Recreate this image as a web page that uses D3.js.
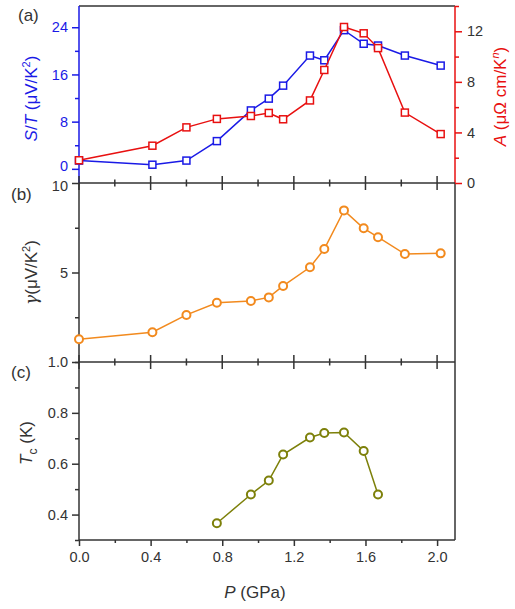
<!DOCTYPE html>
<html>
<head>
<meta charset="utf-8">
<script src="https://cdn.jsdelivr.net/npm/d3@7"></script>
<style>
  html, body { margin: 0; padding: 0; background: #fff; }
  svg { display: block; font-family: Arial, "Liberation Sans", sans-serif; }
</style>
</head>
<body>
<div id="container"></div>
<script>
// pressure points (GPa)
const pressure = [0, 0.41, 0.6, 0.77, 0.96, 1.06, 1.14, 1.29, 1.37, 1.48, 1.59, 1.67, 1.82, 2.02];
// S/T (uV/K^2), left axis of (a)
const seebeck = [1.4, 0.7, 1.4, 4.7, 9.9, 11.9, 14.1, 19.2, 18.4, 23.5, 21.2, 20.9, 19.2, 17.5];
// A coefficient, right axis of (a)
const coefA = [1.8, 2.95, 4.4, 5.07, 5.3, 5.54, 5.04, 6.53, 8.94, 12.34, 11.84, 10.67, 5.57, 3.87];
// gamma (uV/K^2)
const gamma = [1.27, 1.66, 2.63, 3.31, 3.41, 3.61, 4.25, 5.29, 6.31, 8.47, 7.47, 6.97, 6.03, 6.07];
// Tc points
const tcPressure = [0.77, 0.96, 1.06, 1.14, 1.29, 1.37, 1.48, 1.59, 1.67];
const tc = [0.366, 0.479, 0.534, 0.636, 0.703, 0.721, 0.723, 0.65, 0.479];

const xTicks = [0, 0.4, 0.8, 1.2, 1.6, 2.0];
const xMinor = [0.2, 0.6, 1.0, 1.4, 1.8];

const W = 515, H = 609,
    LEFT = 79, RIGHT = 455,
    BLUE = '#1a1ae6', RED = '#e81010', ORANGE = '#f28a1e', OLIVE = '#7d800a', INK = '#333';

const svg = d3.select('#container').append('svg')
    .attr('width', W)
    .attr('height', H);

const x = d3.scaleLinear().domain([0, 2.1]).range([LEFT, RIGHT]);

const panels = {
    a: { top: 6, bottom: 183 },
    b: { top: 183, bottom: 362 },
    c: { top: 362, bottom: 540 }
};

const yS = d3.scaleLinear().domain([-2.4, 27.6]).range([panels.a.bottom, panels.a.top]);
const yA = d3.scaleLinear().domain([0, 14]).range([panels.a.bottom, panels.a.top]);
const yG = d3.scaleLinear().domain([0, 10]).range([panels.b.bottom, panels.b.top]);
const yT = d3.scaleLinear().domain([0.3, 1.0]).range([panels.c.bottom, panels.c.top]);

function styleAxis(g, color, labelColor) {
    g.select('.domain').remove();
    g.selectAll('.tick line').attr('stroke', color).attr('stroke-width', 1.5);
    g.selectAll('.tick text')
        .attr('fill', labelColor)
        .attr('font-size', 14.5);
}

// left axis with major + minor ticks
function leftAxis(scale, major, minor, fmt, color, labelColor) {
    svg.append('g')
        .attr('transform', `translate(${LEFT},0)`)
        .call(d3.axisLeft(scale).tickValues(minor).tickSize(4).tickFormat(''))
        .call(g => styleAxis(g, color, labelColor));
    return svg.append('g')
        .attr('transform', `translate(${LEFT},0)`)
        .call(d3.axisLeft(scale).tickValues(major).tickSize(7).tickPadding(4).tickFormat(fmt))
        .call(g => styleAxis(g, color, labelColor));
}

// x ticks crossing a panel boundary
function crossTicks(yPos) {
    const g = svg.append('g');
    g.selectAll('line.maj').data(xTicks).join('line')
        .attr('x1', d => x(d)).attr('x2', d => x(d))
        .attr('y1', yPos - 7).attr('y2', yPos + 7)
        .attr('stroke', INK).attr('stroke-width', 1.5);
    g.selectAll('line.min').data(xMinor).join('line')
        .attr('x1', d => x(d)).attr('x2', d => x(d))
        .attr('y1', yPos - 3.5).attr('y2', yPos + 3.5)
        .attr('stroke', INK).attr('stroke-width', 1.5);
}

// ---- frames
const frame = svg.append('g').attr('fill', 'none').attr('stroke-width', 1.5);
frame.append('line').attr('x1', LEFT).attr('x2', RIGHT).attr('y1', panels.a.top).attr('y2', panels.a.top).attr('stroke', INK);
frame.append('line').attr('x1', LEFT).attr('x2', LEFT).attr('y1', panels.a.top).attr('y2', panels.a.bottom).attr('stroke', BLUE);
frame.append('line').attr('x1', RIGHT).attr('x2', RIGHT).attr('y1', panels.a.top).attr('y2', panels.a.bottom).attr('stroke', RED);
frame.append('line').attr('x1', LEFT).attr('x2', LEFT).attr('y1', panels.b.top).attr('y2', panels.c.bottom).attr('stroke', INK);
frame.append('line').attr('x1', RIGHT).attr('x2', RIGHT).attr('y1', panels.b.top).attr('y2', panels.c.bottom).attr('stroke', INK);
[panels.b.top, panels.c.top, panels.c.bottom].forEach(yy => {
    frame.append('line').attr('x1', LEFT).attr('x2', RIGHT).attr('y1', yy).attr('y2', yy).attr('stroke', INK);
});

crossTicks(panels.b.top);
crossTicks(panels.c.top);

// bottom x axis
svg.append('g')
    .attr('transform', `translate(0,${panels.c.bottom})`)
    .call(d3.axisBottom(x).tickValues(xMinor).tickSize(3).tickFormat(''))
    .call(g => styleAxis(g, INK, INK));
svg.append('g')
    .attr('transform', `translate(0,${panels.c.bottom})`)
    .call(d3.axisBottom(x).tickValues(xTicks).tickSize(6).tickPadding(6).tickFormat(d3.format('.1f')))
    .call(g => styleAxis(g, INK, INK));

// ---- left axes
const sAxis = leftAxis(yS, [0, 8, 16, 24], [4, 12, 20], d3.format('d'), BLUE, BLUE);
const gAxis = leftAxis(yG, [5, 10], [0, 2.5, 7.5], d3.format('d'), INK, INK);
leftAxis(yT, [0.4, 0.6, 0.8, 1.0], [0.3, 0.5, 0.7, 0.9], d3.format('.1f'), INK, INK);
// "0" of (a) and "10" of (b) sit right on top of each other; pull them apart a touch
sAxis.selectAll('.tick text').filter(d => d === 0).attr('dy', '0.1em');
gAxis.selectAll('.tick text').filter(d => d === 10).attr('dy', '0.5em');

// ---- right axis (a)
svg.append('g')
    .attr('transform', `translate(${RIGHT},0)`)
    .call(d3.axisRight(yA).tickValues([2, 6, 10, 14]).tickSize(4).tickFormat(''))
    .call(g => styleAxis(g, RED, INK));
svg.append('g')
    .attr('transform', `translate(${RIGHT},0)`)
    .call(d3.axisRight(yA).tickValues([0, 4, 8, 12]).tickSize(7).tickPadding(5).tickFormat(d3.format('d')))
    .call(g => styleAxis(g, RED, INK));

// ---- series
function series(xs, ys, yScale, color, shape) {
    const pts = xs.map((p, i) => [p, ys[i]]);
    const g = svg.append('g');
    g.append('path')
        .datum(pts)
        .attr('fill', 'none')
        .attr('stroke', color)
        .attr('stroke-width', 1.5)
        .attr('d', d3.line().x(d => x(d[0])).y(d => yScale(d[1])));
    if (shape === 'square') {
        g.selectAll('rect').data(pts).join('rect')
            .attr('x', d => x(d[0]) - 3.5).attr('y', d => yScale(d[1]) - 3.5)
            .attr('width', 7).attr('height', 7)
            .attr('fill', '#fff').attr('stroke', color).attr('stroke-width', 1.5);
    } else {
        g.selectAll('circle').data(pts).join('circle')
            .attr('cx', d => x(d[0])).attr('cy', d => yScale(d[1]))
            .attr('r', 4)
            .attr('fill', '#fff').attr('stroke', color).attr('stroke-width', 2);
    }
}

series(pressure, seebeck, yS, BLUE, 'square');
series(pressure, coefA, yA, RED, 'square');
series(pressure, gamma, yG, ORANGE, 'circle');
series(tcPressure, tc, yT, OLIVE, 'circle');

// ---- titles & labels
const txt = svg.append('g').attr('fill', INK);
txt.append('text').attr('x', 18).attr('y', 21).attr('font-size', 17).text('(a)');
txt.append('text').attr('x', 11).attr('y', 200).attr('font-size', 17).text('(b)');
txt.append('text').attr('x', 11).attr('y', 378).attr('font-size', 17).text('(c)');

const sTitle = svg.append('text')
    .attr('transform', `translate(37,${(panels.a.top + panels.a.bottom) / 2 + 4}) rotate(-90)`)
    .attr('text-anchor', 'middle')
    .attr('font-size', 17)
    .attr('fill', BLUE);
sTitle.append('tspan').attr('font-style', 'italic').text('S');
sTitle.append('tspan').text('/');
sTitle.append('tspan').attr('font-style', 'italic').text('T');
sTitle.append('tspan').text(' (\u03bcV/K');
sTitle.append('tspan').attr('font-size', 11).attr('dy', -7).text('2');
sTitle.append('tspan').attr('dy', 7).text(')');

const aTitle = svg.append('text')
    .attr('transform', `translate(506,${(panels.a.top + panels.a.bottom) / 2 + 2}) rotate(-90)`)
    .attr('text-anchor', 'middle')
    .attr('font-size', 17)
    .attr('fill', RED);
aTitle.append('tspan').attr('font-style', 'italic').text('A');
aTitle.append('tspan').text(' (\u03bc\u03a9 cm/K');
aTitle.append('tspan').attr('font-size', 11).attr('dy', -7).attr('font-style', 'italic').text('n');
aTitle.append('tspan').attr('dy', 7).text(')');

const gTitle = svg.append('text')
    .attr('transform', `translate(37,${(panels.b.top + panels.b.bottom) / 2}) rotate(-90)`)
    .attr('text-anchor', 'middle')
    .attr('font-size', 17)
    .attr('fill', INK);
gTitle.append('tspan').attr('font-style', 'italic').attr('font-family', '"DejaVu Serif", "Liberation Serif", serif').text('\u03b3');
gTitle.append('tspan').text('(\u03bcV/K');
gTitle.append('tspan').attr('font-size', 11).attr('dy', -7).text('2');
gTitle.append('tspan').attr('dy', 7).text(')');

const tTitle = svg.append('text')
    .attr('transform', `translate(32,${(panels.c.top + panels.c.bottom) / 2 - 8}) rotate(-90)`)
    .attr('text-anchor', 'middle')
    .attr('font-size', 17)
    .attr('fill', INK);
tTitle.append('tspan').attr('font-style', 'italic').text('T');
tTitle.append('tspan').attr('font-size', 12).attr('dy', 5).text('c');
tTitle.append('tspan').attr('dy', -5).text(' (K)');

const pTitle = svg.append('text')
    .attr('x', (LEFT + RIGHT) / 2 - 12)
    .attr('y', 598)
    .attr('text-anchor', 'middle')
    .attr('font-size', 17)
    .attr('fill', INK);
pTitle.append('tspan').attr('font-style', 'italic').text('P');
pTitle.append('tspan').text(' (GPa)');
</script>
</body>
</html>
